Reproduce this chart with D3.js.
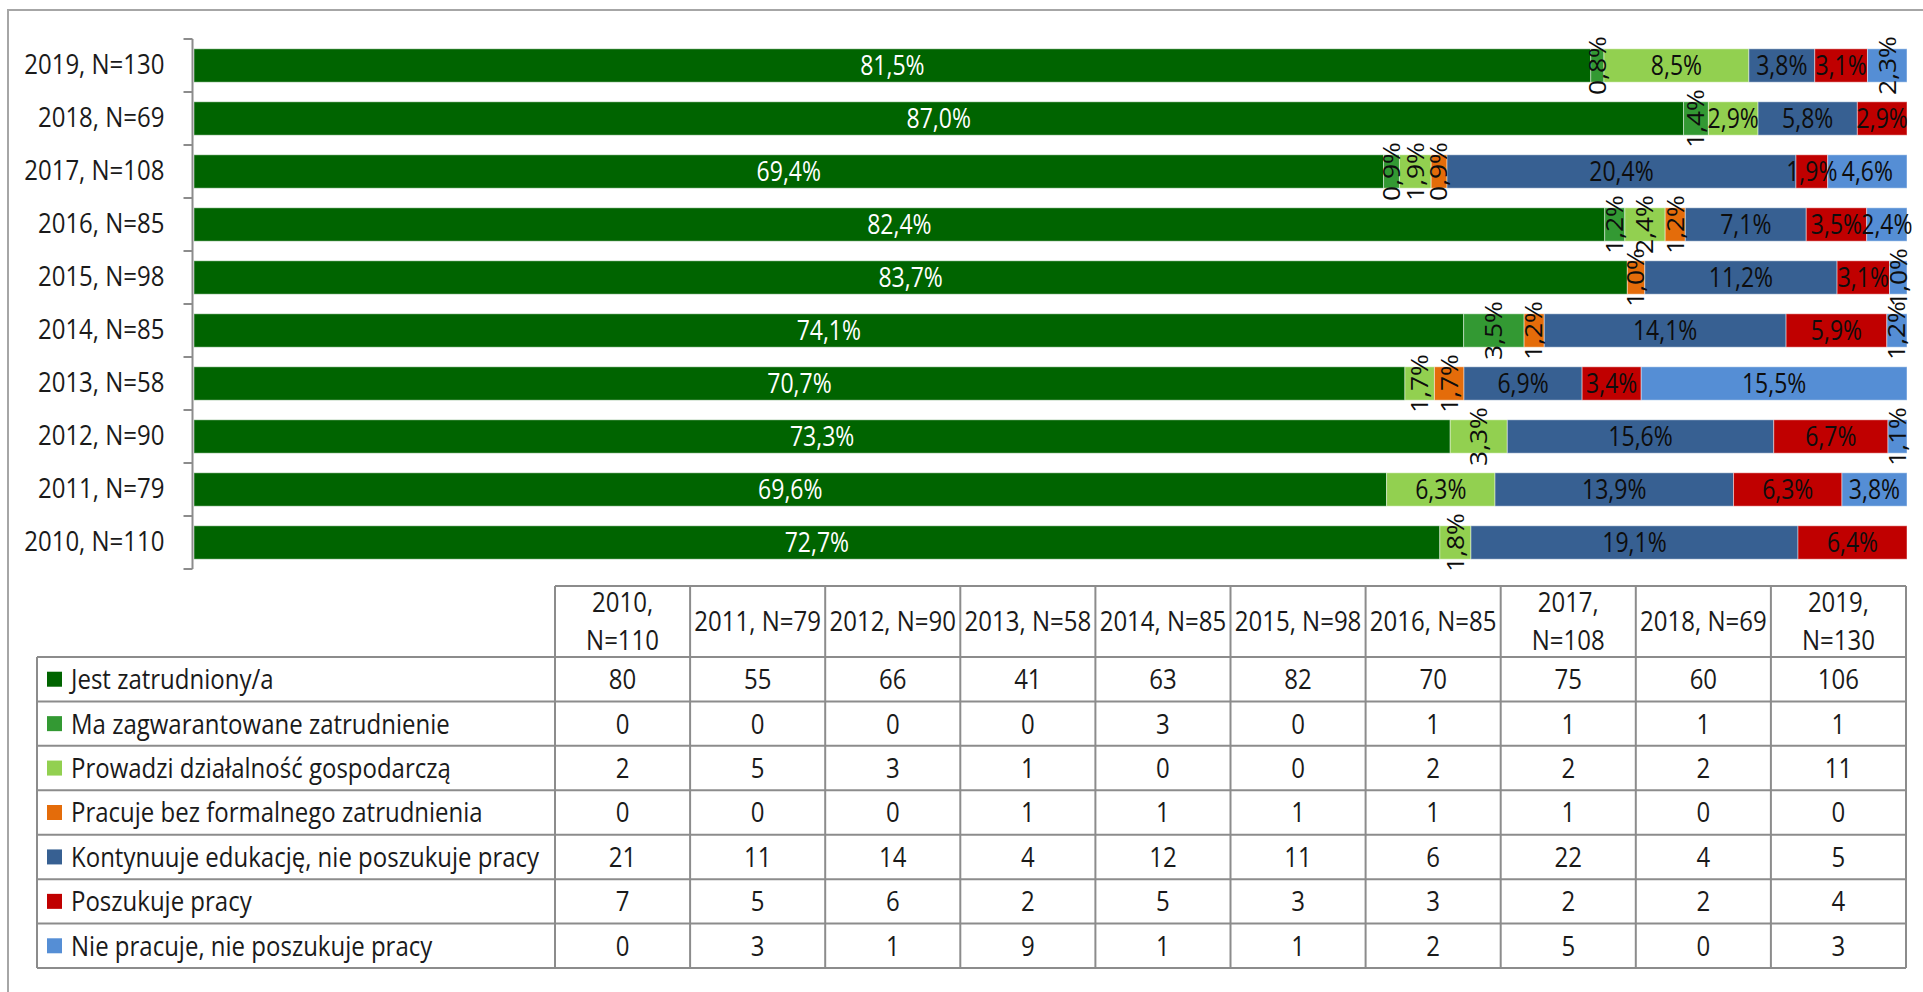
<!DOCTYPE html>
<html>
<head>
<meta charset="utf-8">
<script src="https://cdn.jsdelivr.net/npm/d3@7"></script>
<style>
  body { margin: 0; background: #fff; }
  svg text { font-family: "Open Sans", "Noto Sans", sans-serif; fill: #1a1a1a; }
</style>
</head>
<body>
<div id="chart"></div>
<script>
// categories (bottom to top in the chart, left to right in the table)
const years = ["2010, N=110", "2011, N=79", "2012, N=90", "2013, N=58", "2014, N=85",
               "2015, N=98", "2016, N=85", "2017, N=108", "2018, N=69", "2019, N=130"];

const seriesNames = [
    "Jest zatrudniony/a",
    "Ma zagwarantowane zatrudnienie",
    "Prowadzi działalność gospodarczą",
    "Pracuje bez formalnego zatrudnienia",
    "Kontynuuje edukację, nie poszukuje pracy",
    "Poszukuje pracy",
    "Nie pracuje, nie poszukuje pracy"
];
const seriesColors = ["#006400", "#339933", "#92d050", "#e46c0a", "#376092", "#c00000", "#558ed5"];

// counts per series, one value per year
const employed    = [80, 55, 66, 41, 63, 82, 70, 75, 60, 106];
const guaranteed  = [0, 0, 0, 0, 3, 0, 1, 1, 1, 1];
const business    = [2, 5, 3, 1, 0, 0, 2, 2, 2, 11];
const informal    = [0, 0, 0, 1, 1, 1, 1, 1, 0, 0];
const education   = [21, 11, 14, 4, 12, 11, 6, 22, 4, 5];
const seeking     = [7, 5, 6, 2, 5, 3, 3, 2, 2, 4];
const inactive    = [0, 3, 1, 9, 1, 1, 2, 5, 0, 3];
const seriesValues = [employed, guaranteed, business, informal, education, seeking, inactive];

// which data labels are drawn vertically: [year index, series index]
const rotatedLabels = [[9, 1], [9, 6], [8, 1], [7, 1], [7, 2], [7, 3], [6, 1], [6, 2], [6, 3],
                       [5, 3], [5, 6], [4, 1], [4, 3], [4, 6], [3, 2], [3, 3], [2, 2], [2, 6], [0, 2]];

const W = 1923, H = 992;
const TXT_STRETCH = 1.15; // glyphs in the original are a bit taller than wide
const svg = d3.select("#chart").append("svg").attr("width", W).attr("height", H);

// outer frame
svg.append("rect").attr("x", 8).attr("y", 10).attr("width", W + 20).attr("height", H + 20)
    .attr("fill", "none").attr("stroke", "#a6a6a6").attr("stroke-width", 2);

// build rows of percentages
const rows = years.map((y, i) => {
    const total = d3.sum(seriesValues, s => s[i]);
    const r = { year: y, idx: i, total };
    seriesNames.forEach((n, k) => r[n] = seriesValues[k][i] / total);
    return r;
});

const stack = d3.stack().keys(seriesNames);
const layers = stack(rows);

const x = d3.scaleLinear().domain([0, 1]).range([194, 1907]);
const y = d3.scaleBand().domain(years.slice().reverse()).range([39, 569])
    .paddingInner(0.37).paddingOuter(0.185);

const fmt = v => (v * 100).toFixed(1).replace(".", ",") + "%";
const rotSet = new Set(rotatedLabels.map(d => d[0] + "|" + d[1]));
const place = (px, py, rot) => `translate(${px},${py}) scale(1,${TXT_STRETCH})` + (rot ? " rotate(-90)" : "");

const gBars = svg.append("g");
layers.forEach((layer, k) => {
    gBars.append("g").selectAll("rect").data(layer).join("rect")
        .attr("x", d => x(d[0]))
        .attr("y", d => y(d.data.year))
        .attr("width", d => x(d[1]) - x(d[0]))
        .attr("height", y.bandwidth())
        .attr("fill", seriesColors[k])
        .attr("stroke", "#ffffff").attr("stroke-opacity", 0.45).attr("stroke-width", 1);
});

// data labels
const gLabels = svg.append("g");
layers.forEach((layer, k) => {
    layer.forEach(d => {
        const v = d[1] - d[0];
        if (v <= 0) return;
        const cx = (x(d[0]) + x(d[1])) / 2;
        const cy = y(d.data.year) + y.bandwidth() / 2;
        const rot = rotSet.has(d.data.idx + "|" + k);
        gLabels.append("text")
            .attr("transform", place(cx, cy, rot))
            .attr("text-anchor", "middle")
            .attr("dy", "0.36em")
            .style("font-size", "23px")
            .style("fill", k === 0 ? "#ffffff" : "#0d0d0d")
            .text(fmt(v));
    });
});

// category axis
const gAxis = svg.append("g").attr("transform", "translate(192.5,0)");
gAxis.call(d3.axisLeft(y).tickSize(0).tickPadding(28));
gAxis.select(".domain").remove();
gAxis.selectAll("text").style("font-size", "24px").style("fill", "#1a1a1a").attr("font-family", null)
    .attr("transform", `scale(1,${TXT_STRETCH})`);
gAxis.append("line").attr("x1", 0).attr("x2", 0).attr("y1", 39).attr("y2", 569)
    .attr("stroke", "#8c8c8c").attr("stroke-width", 2);
const bounds = d3.range(years.length + 1).map(i => 39 + i * y.step());
gAxis.selectAll(".bound").data(bounds).join("line")
    .attr("x1", -9).attr("x2", 0).attr("y1", d => d).attr("y2", d => d)
    .attr("stroke", "#8c8c8c").attr("stroke-width", 2);

// data table
const tLeft = 37, tLegendRight = 555, tRight = 1906, tHeadTop = 586, tHeadBottom = 657, tBottom = 968;
const col = d3.scaleBand().domain(years).range([tLegendRight, tRight]);
const row = d3.scaleBand().domain(seriesNames).range([tHeadBottom, tBottom]);
const gTable = svg.append("g");
const lineColor = "#8c8c8c";

// header (long names wrap onto two lines)
const headMid = (tHeadTop + tHeadBottom) / 2;
years.forEach(yr => {
    const cx = col(yr) + col.bandwidth() / 2;
    const t = gTable.append("text").attr("transform", place(cx, headMid))
        .attr("text-anchor", "middle").attr("dy", "0.36em").style("font-size", "24px").text(yr);
    if (t.node().getComputedTextLength() > col.bandwidth() - 2) {
        const parts = yr.split(", ");
        t.remove();
        [parts[0] + ",", parts[1]].forEach((p, j) => {
            gTable.append("text").attr("transform", place(cx, headMid + (j === 0 ? -19 : 19)))
                .attr("text-anchor", "middle").attr("dy", "0.36em").style("font-size", "24px").text(p);
        });
    }
});

// legend column + values
seriesNames.forEach((name, k) => {
    const cy = row(name) + row.bandwidth() / 2;
    gTable.append("rect").attr("x", 47).attr("y", cy - 7.5).attr("width", 15).attr("height", 15)
        .attr("fill", seriesColors[k]);
    gTable.append("text").attr("transform", place(71, cy)).attr("dy", "0.36em")
        .style("font-size", "24px").text(name);
    years.forEach((yr, i) => {
        gTable.append("text").attr("transform", place(col(yr) + col.bandwidth() / 2, cy))
            .attr("text-anchor", "middle").attr("dy", "0.36em")
            .style("font-size", "24px").text(seriesValues[k][i]);
    });
});

// grid lines
const gl = (x1, y1, x2, y2) => gTable.append("line")
    .attr("x1", x1).attr("y1", y1).attr("x2", x2).attr("y2", y2)
    .attr("stroke", lineColor).attr("stroke-width", 2);
gl(tLegendRight, tHeadTop, tRight, tHeadTop);
gl(tLeft, tHeadBottom, tRight, tHeadBottom);
seriesNames.forEach(name => gl(tLeft, row(name) + row.bandwidth(), tRight, row(name) + row.bandwidth()));
gl(tLeft, tHeadBottom, tLeft, tBottom);
gl(tLegendRight, tHeadTop, tLegendRight, tBottom);
years.forEach(yr => gl(col(yr) + col.bandwidth(), tHeadTop, col(yr) + col.bandwidth(), tBottom));
</script>
</body>
</html>
